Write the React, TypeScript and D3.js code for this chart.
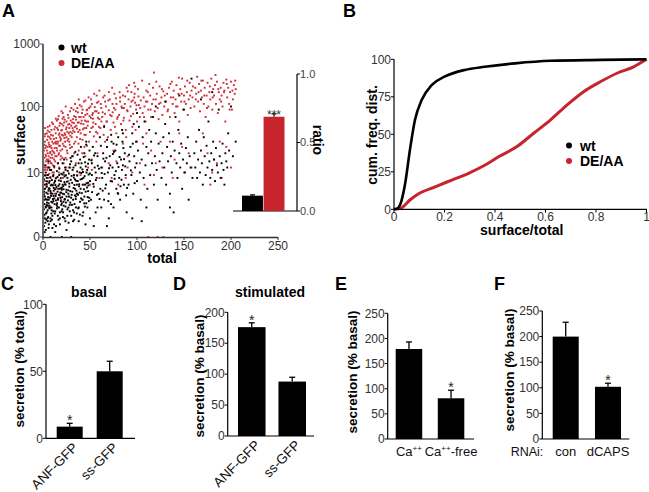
import React from "react";
import * as d3 from "d3";

const FONT = "'Liberation Sans', Arial, Helvetica, sans-serif";
const RED = "#c8242d";
const RED_DOT = "#cc2e36";
const TICK_COLOR = "#333";

// ---------- Panel A: scatter (total, surface) ----------
const deaaPoints: [number, number][] = [
  [1,4],[2,9],[3,15],[1,22],[4,6],[5,12],[2,30],[6,18],[3,3],[7,25],[8,8],[4,40],[6,5],[9,14],[5,20],[2,11],[7,35],[10,10],[8,17],[3,7],[11,28],[9,45],[1,13],[6,2],[10,22],[4,16],[12,12],[11,6],[5,50],[8,4],[0,18],[0,8],[0,30],[12,20],[7,12],[3,26],
  [13,15],[14,30],[15,22],[16,45],[17,10],[18,35],[19,18],[20,55],[21,28],[22,14],[23,40],[24,25],[25,60],[26,20],[27,33],[28,48],[29,12],[14,8],[16,65],[18,26],[20,38],[22,70],[24,17],[26,42],[28,30],[30,52],[15,5],[19,3],[23,9],[27,7],[13,50],[17,20],[21,80],[25,35],[29,24],
  [31,40],[32,65],[33,28],[34,50],[35,85],[36,35],[37,58],[38,22],[39,45],[40,70],[41,100],[42,32],[43,55],[44,38],[45,75],[46,48],[47,90],[48,60],[49,30],[50,42],[51,68],[52,110],[53,50],[54,36],[35,14],[40,9],[45,18],[50,6],[38,130],[44,25],[32,18],[48,12],[53,80],[36,4],[42,3],
  [56,55],[57,85],[58,40],[59,120],[60,65],[61,48],[62,95],[63,70],[64,140],[65,52],[66,78],[67,100],[68,60],[69,35],[70,88],[71,130],[72,45],[73,72],[74,110],[75,58],[76,160],[77,90],[78,40],[79,66],[58,20],[63,12],[68,25],[73,8],[78,15],[60,180],[66,30],[75,22],
  [81,75],[82,120],[83,55],[84,95],[85,150],[86,68],[87,110],[88,45],[89,200],[90,85],[91,130],[92,62],[93,100],[94,170],[95,50],[96,78],[97,140],[98,115],[99,90],[100,60],[101,190],[102,105],[103,70],[104,125],[85,28],[90,18],[95,10],[100,30],[88,8],[103,14],[97,240],
  [106,80],[107,140],[108,100],[109,60],[110,180],[111,120],[112,90],[113,230],[114,150],[115,70],[116,110],[117,200],[118,350],[119,85],[120,130],[121,160],[122,95],[123,65],[124,210],[125,115],[126,140],[127,75],[128,175],[129,100],[110,40],[115,22],[120,14],[125,30],[108,6],[118,9],[112,0],[122,0],[128,0],[127,12],
  [131,120],[132,160],[133,90],[134,200],[135,70],[136,140],[137,250],[138,110],[139,180],[140,80],[141,130],[142,220],[143,100],[144,160],[145,60],[146,190],[147,120],[148,280],[149,90],[150,150],[151,210],[152,110],[153,170],[154,75],[155,130],[156,240],[157,95],[158,180],[159,140],[135,30],[140,16],[145,40],[150,10],[155,20],[138,8],[148,25],[158,12],
  [161,100],[162,200],[163,160],[164,300],[165,120],[166,230],[167,85],[168,180],[169,140],[170,260],[171,110],[172,200],[173,70],[174,150],[175,240],[176,100],[177,170],[178,130],[179,280],[180,90],[181,190],[182,150],[183,220],[184,110],[185,250],[186,80],[187,170],[188,130],[189,200],[190,150],[191,100],[192,240],[193,180],[194,60],[195,270],[196,140],[197,200],[198,110],[199,170],[200,250],[201,90],[202,130],[203,220],[204,160],[205,190],[170,40],[175,20],[180,10],[185,14],[178,6],[190,8],[195,25],[182,16],[200,12],[188,30],
  [0.5,10],[1.5,17],[2.5,24],[3.5,12],[4.5,32],[5.5,8],[6.5,27],[7.5,15],[8.5,38],[9.5,19],[10.5,13],[11.5,33],[12.5,24],[13.5,40],[14.5,18],[0.8,5],[1.8,36],[2.8,19],[3.8,9],[4.8,25],[5.8,14],[6.8,42],[7.8,21],[8.8,11],[9.8,30],[10.8,55],[11.8,16],[12.8,7],[13.8,28],[14.8,62],[0.3,14],[0.2,24],[2.2,48],[5.2,36],[8.2,26],
  [15.5,28],[16.5,19],[17.5,52],[18.5,31],[19.5,44],[20.5,23],[21.5,37],[22.5,58],[23.5,30],[24.5,46],[25.5,22],[26.5,75],[27.5,40],[28.5,27],[29.5,62],[30.5,35],[31.5,48],[32.5,90],[33.5,42],[34.5,30],[16.8,38],[18.8,16],[20.8,66],[22.8,34],[24.8,12],[26.8,54],[28.8,85],[30.8,25],[32.8,57],[34.8,70],[17.2,12],[21.2,8],[25.2,16],[29.2,42],[33.2,20],
  [35.5,52],[36.5,95],[37.5,42],[38.5,70],[39.5,33],[40.5,56],[41.5,80],[42.5,46],[43.5,120],[44.5,62],[45.5,38],[46.5,88],[47.5,52],[48.5,140],[49.5,72],[50.5,100],[51.5,48],[52.5,75],[53.5,58],[54.5,160],[55.5,85],[56.5,42],[57.5,115],[58.5,68],[59.5,50],[37.8,28],[41.8,20],[46.8,26],[51.8,16],[56.8,30],
  [61.5,110],[63.5,82],[65.5,150],[67.5,60],[69.5,125],[71.5,75],[73.5,200],[75.5,95],[77.5,135],[79.5,70],[81.5,170],[83.5,100],[85.5,62],[87.5,145],[89.5,88],[91.5,220],[93.5,72],[95.5,125],[97.5,160],[99.5,105],[101.5,145],[103.5,95],[105.5,260],[107.5,70],[109.5,120],[64.5,38],[76.5,50],[88.5,35],[98.5,45],[106.5,28],
  [111.5,170],[114.5,90],[117.5,130],[120.5,250],[123.5,110],[126.5,190],[129.5,150],[132.5,85],[135.5,230],[138.5,140],[141.5,100],[144.5,290],[147.5,160],[150.5,120],[153.5,260],[156.5,150],[159.5,210],[162.5,130],[165.5,170],[168.5,260],[171.5,150],[174.5,95],[177.5,210],[180.5,140],[183.5,320],[186.5,190],[189.5,120],[192.5,170],[195.5,230],[198.5,90],[201.5,180],[204.5,260],
  [0.6,7],[1.3,27],[1.9,12],[2.4,39],[3.1,18],[3.6,5.5],[4.1,22],[4.6,11],[5.1,44],[5.6,16],[6.1,29],[6.6,9.5],[7.1,52],[7.6,20],[8.1,33],[8.6,14],[9.1,24],[9.6,58],[10.1,17],[10.6,37],[11.1,21],[11.6,10],[12.1,46],[12.6,29],[13.1,18],[13.6,66],[14.1,34],[14.6,24],[15.1,48],[15.6,14],[16.1,30],[16.6,72],[17.1,26],[17.6,40],[18.1,57],[18.6,22],[19.1,33],[19.6,85],[20.1,45],[20.6,17],[21.6,52],[22.1,26],[23.1,64],[23.6,38],[24.1,100],[25.1,49],[26.1,31],[27.1,68],[28.1,55],[29.1,37],[30.1,95],[31.1,58],[32.1,44],[33.1,72],[34.1,110],[35.1,64],[36.1,47],[37.1,82],[38.1,58],[39.1,105],[40.1,40],[41.1,62],[42.1,90],[43.1,70],[44.1,48],[45.1,125],[46.1,60],[47.1,78],[49.1,95],[51.1,130],[53.1,66],[55.1,98],[57.1,150],[59.1,80],[62.1,60],[66.1,120],[70.1,170],[74.1,82],[78.1,110],[82.1,140],[86.1,95],[90.1,175],[94.1,120],[98.1,210],
  [12,4],[20,5],[28,3.5],[36,9],[44,6],[52,11],[60,8],[70,14],[80,6],[90,12]
];

const wtPoints: [number, number][] = [
  [1,0.5],[2,1],[3,2],[1,3],[4,1.5],[5,4],[2,6],[6,2.5],[3,0.3],[7,5],[8,1],[4,8],[6,3],[9,2],[5,0.8],[2,3.5],[7,7],[10,1.2],[8,4.5],[3,10],[11,2.8],[9,6],[1,1.8],[12,3.2],[10,0.4],[4,5.5],[13,1.6],[11,9],[5,2.2],[14,4],[0,2],[0,5],[0,0.5],[12,6.5],[6,12],[13,0.2],[15,2.5],[8,0],
  [16,3],[17,5],[18,1.5],[19,7],[20,2.5],[21,4],[22,10],[23,1],[24,6],[25,3.5],[26,8],[27,2],[28,12],[29,4.5],[30,1.2],[31,6.5],[32,3],[33,9],[34,5],[35,2],[16,14],[18,0.6],[20,4.8],[22,2.2],[24,11],[26,1.8],[28,5.5],[30,15],[32,0.8],[34,7.5],[17,3.8],[19,2.8],[21,6],[23,8.5],[25,0.3],[27,4],[29,2.6],[31,18],[33,1.5],[35,3.5],[20,0],[30,0],
  [36,4],[37,7],[38,2],[39,10],[40,5],[41,14],[42,3],[43,8],[44,20],[45,6],[46,2.5],[47,11],[48,4.5],[49,16],[50,7],[51,3],[52,9],[53,25],[54,5.5],[55,12],[56,1.5],[57,8],[58,18],[59,4],[38,0.8],[42,1.2],[46,30],[50,1],[54,0.5],[58,2],[40,12],[48,6.5],[52,14],[56,10],[44,3.5],[36,6],
  [61,5],[62,12],[63,8],[64,20],[65,3],[66,15],[67,6],[68,25],[69,10],[70,4],[71,18],[72,7],[73,30],[74,12],[75,2],[76,9],[77,22],[78,5],[79,14],[80,35],[81,8],[82,3],[83,16],[84,11],[85,40],[86,6],[87,20],[88,9],[89,1.5],[65,50],[70,1],[75,28],[80,4],[85,13],[62,2],[68,0.5],
  [91,6],[92,15],[93,25],[94,9],[95,40],[96,4],[97,18],[98,12],[99,30],[100,7],[101,22],[102,50],[103,10],[104,3],[105,16],[106,35],[107,8],[108,60],[109,13],[110,25],[111,5],[112,20],[113,45],[114,9],[115,30],[116,14],[117,70],[118,6],[119,18],[120,40],[121,11],[122,3],[123,28],[124,15],[95,1],[105,0.8],[100,80],[110,2],[120,100],
  [126,8],[127,20],[128,35],[129,12],[130,55],[131,6],[132,25],[133,15],[134,40],[135,4],[136,18],[137,10],[138,30],[139,1.5],[140,22],[141,70],[142,14],[143,8],[144,45],[145,20],[146,12],[147,28],[148,5],[149,16],[150,90],[151,10],[152,24],[153,14],[154,35],[155,3],[156,18],[157,12],[158,280],[159,8],[130,120],[145,150],[135,2],
  [161,20],[162,12],[163,30],[164,8],[165,16],[166,45],[167,10],[168,22],[169,14],[170,6],[171,35],[172,18],[173,9],[174,26],[175,12],[176,60],[177,15],[178,8],[179,20],[180,11],[181,30],[182,16],[183,7],[184,24],[185,13],[186,10],[187,90],[188,18],[189,8],[190,14],[191,28],[192,11],[193,6],[194,20],[195,15],[196,12],[197,40],[198,22],[200,100],[202,18],[205,30],[168,130],[180,170],
  [0.5,1.2],[1.5,2.4],[2.5,0.7],[3.5,4.2],[4.5,3],[5.5,1.1],[6.5,6.5],[7.5,2],[8.5,3.6],[9.5,0.9],[1.2,7.5],[2.2,5],[3.2,1.4],[4.2,2.6],[5.2,9],[6.2,0.6],[7.2,3.3],[8.2,5.8],[9.2,1.7],[0.8,3.8],[1.8,0.2],[2.8,2.1],[3.8,6.2],[4.8,1],[5.8,4.6],[6.8,1.9],[7.8,8.2],[8.8,2.7],[9.8,4],[0.3,6.8],[2.6,13],[5.6,15],[8.6,11],
  [10.5,3.1],[11.5,5.2],[12.5,1.4],[13.5,7.8],[14.5,2.3],[15.5,4.4],[16.5,0.9],[17.5,6.1],[18.5,3.3],[19.5,9.5],[20.5,1.8],[21.5,5.6],[22.5,3.9],[23.5,12],[24.5,2.6],[10.8,8.6],[11.8,0.6],[12.8,4.9],[13.8,2.9],[14.8,10.5],[15.8,1.2],[16.8,7.2],[17.8,3.7],[18.8,5.1],[19.8,1.6],[20.8,14],[21.8,2.7],[22.8,6.7],[23.8,0.8],[24.8,4.3],[11.2,3.6],[13.2,5.9],[15.2,2.1],[17.2,9],[19.2,4.2],[21.2,1.1],[23.2,3.1],
  [25.5,6.8],[26.5,2.9],[27.5,9.6],[28.5,1.6],[29.5,7.4],[30.5,3.8],[31.5,11],[32.5,5.2],[33.5,2.4],[34.5,13],[35.5,4.6],[36.5,8.8],[37.5,1.9],[38.5,6.1],[39.5,16],[40.5,3.2],[41.5,7.7],[42.5,10.2],[43.5,4.9],[44.5,2.1],[45.5,12.5],[46.5,6.4],[47.5,3.4],[48.5,9.2],[49.5,22],[26.8,4.7],[28.8,13.5],[30.8,2.3],[32.8,8.1],[34.8,3.1],[36.8,19],[38.8,4.2],[40.8,9.8],[42.8,1.5],[44.8,14.5],[46.8,5.3],[48.8,2.8],[27.2,0.7],[33.2,0.9],[39.2,1.3],[45.2,0.6],
  [51.5,15.5],[53.5,6.2],[55.5,20],[57.5,3.8],[59.5,11.5],[61.5,26],[63.5,4.6],[65.5,9.4],[67.5,17],[69.5,2.8],[71.5,13],[73.5,6.9],[75.5,21],[77.5,10.5],[79.5,4.1],[81.5,17.5],[83.5,7.4],[85.5,24],[87.5,12.5],[89.5,5.2],[91.5,19],[93.5,10.8],[95.5,28],[97.5,6.4],[99.5,14],[60.5,35],[72.5,38],[84.5,30],[96.5,55],
  [0.4,2.9],[1.1,4.4],[1.7,1.3],[2.3,8.8],[2.9,3.1],[3.4,0.9],[3.9,2.3],[4.4,6.9],[4.9,1.7],[5.4,3.4],[5.9,0.4],[6.4,5.1],[6.9,2.2],[7.4,11],[7.9,0.8],[8.4,4.1],[8.9,1.4],[9.4,7.3],[9.9,2.6],[10.3,5.8],[10.9,1.6],[11.4,4.6],[11.9,12.5],[12.3,2.4],[12.9,7],[13.4,3.6],[13.9,0.5],[14.3,5.4],[14.9,1.9],[15.4,8.3],[15.9,3.2],[16.4,5.7],[16.9,2],[17.4,11.5],[17.9,1],[18.4,4.2],[18.9,7.9],[19.4,2.3],[19.9,5.3],[20.4,3.4],[20.9,9.2],[21.4,1.5],[21.9,4.9],[22.4,16],[22.9,3],[23.4,6.1],[23.9,2.1],[24.4,8.9],[24.9,4.8],[25.9,1.2],[26.3,10.6],[27.4,3.5],[27.9,6.3],[28.4,2.3],[29.3,17],[29.9,3.3],[30.4,8.7],[31.2,4.4],[31.9,1.7],[32.4,12],[33.4,5.9],[33.9,3.7],[34.4,21],[35.2,7.1],[35.9,1.4],[36.4,10.4],[37.3,3.8],[37.9,14],[38.3,5.6],[39.4,2.7],[39.9,7.5],[40.3,25],[41.2,4.1],[41.9,11.2],[42.3,6],[43.3,17.5],[43.9,2.5],[44.3,8.6],[45.4,4.4],[45.9,27],[46.3,10],[47.2,2],[47.9,13.8],[48.3,5.8],[49.2,3.3],[49.9,9.6],[52.2,4.3],[54.3,18.5],[56.2,7.3],[58.3,12.8],[60.2,3.1],[62.4,9.8],[64.2,16.5],[66.3,5.1],[68.2,32],[70.3,11.7],[72.4,2.4],[74.3,19.5],[76.2,7.7],[78.3,27],[80.3,12.2],[82.4,5.6],[84.2,45],[86.3,16.2],[88.4,3.7]
];

const scatterXTicks = [0, 50, 100, 150, 200, 250];
const scatterYTicks = [0, 10, 100, 1000];
const legendLabels = ["wt", "DE/AA"];

// inset ratio bars
const ratioGroups = ["wt", "DE/AA"];
const ratioValues = [0.112, 0.688];
const ratioErrors = [0.006, 0.022];
const ratioTicks = [0, 0.5, 1.0];

// ---------- Panel B: cumulative distributions ----------
const wtCdfX = [0, 0.01, 0.024, 0.044, 0.063, 0.083, 0.11, 0.15, 0.2, 0.28, 0.36, 0.48, 0.62, 0.82, 1.0];
const wtCdfY = [0, 0.3, 2.9, 17, 39.5, 59.5, 73, 83, 88.4, 92.9, 95, 97.3, 99, 99.6, 100];
const deaaCdfX = [0, 0.03, 0.063, 0.096, 0.163, 0.229, 0.295, 0.361, 0.414, 0.487, 0.553, 0.619, 0.685, 0.751, 0.817, 0.883, 0.949, 1.0];
const deaaCdfY = [0, 1, 6.2, 10.2, 15, 19.5, 24, 29.5, 35, 41.8, 50.7, 59.5, 69.5, 78.4, 85, 90.7, 95, 100];
const cdfXTicks = [0, 0.2, 0.4, 0.6, 0.8, 1];
const cdfYTicks = [0, 25, 50, 75, 100];

// ---------- Panels C-F: bars ----------
const basalGroups = ["ANF-GFP", "ss-GFP"];
const basalValues = [8.7, 50];
const basalErrors = [2.5, 7.5];
const basalSig = [true, false];

const stimGroups = ["ANF-GFP", "ss-GFP"];
const stimValues = [176, 88];
const stimErrors = [7, 7];
const stimSig = [true, false];

const caGroups = ["Ca++", "Ca++-free"];
const caValues = [179, 81];
const caErrors = [14, 16];
const caSig = [false, true];

const rnaiGroups = ["con", "dCAPS"];
const rnaiValues = [200, 102];
const rnaiErrors = [28, 7];
const rnaiSig = [false, true];

function renderCaLabel(s: string) {
  const parts = s.split("++");
  const out: any[] = [];
  parts.forEach((p, i) => {
    if (i > 0) {
      out.push(<tspan key={"s" + i} fontSize={8} dy={-5}>++</tspan>);
      out.push(<tspan key={"p" + i} dy={5}>{p}</tspan>);
    } else {
      out.push(<tspan key={"p" + i}>{p}</tspan>);
    }
  });
  return out;
}

type BarProps = {
  groups: string[]; values: number[]; errors: number[]; sig: boolean[];
  axisX: number; axisEnd: number; y0: number; yTop: number; max: number; ticks: number[];
  band: [number, number]; pad: number; rotated: boolean; title?: string; titleX?: number;
  ylabel: string; ylabelX: number; ylabelY: number; caLabels?: boolean;
};

function BarPanel(p: BarProps) {
  const y = d3.scaleLinear().domain([0, p.max]).range([p.y0, p.yTop]);
  const x = d3.scaleBand<string>().domain(p.groups).range(p.band).paddingInner(p.pad).paddingOuter(0);
  const bw = x.bandwidth();
  return (
    <g fontFamily={FONT}>
      {p.title && (
        <text x={p.titleX} y={297} textAnchor="middle" fontWeight="bold" fontSize={14}>{p.title}</text>
      )}
      <text transform={`translate(${p.ylabelX},${p.ylabelY}) rotate(-90)`} textAnchor="middle" fontWeight="bold" fontSize={13.5}>{p.ylabel}</text>
      {p.groups.map((g, i) => {
        const cx = (x(g) as number) + bw / 2;
        const top = y(p.values[i]);
        const et = y(p.values[i] + p.errors[i]);
        return (
          <g key={g}>
            <line x1={cx} x2={cx} y1={top} y2={et} stroke="#000" strokeWidth={1.3} />
            <line x1={cx - 3} x2={cx + 3} y1={et} y2={et} stroke="#000" strokeWidth={1.3} />
            <rect x={x(g)} y={top} width={bw} height={p.y0 - top} fill="#000" />
            {p.sig[i] && (
              <text x={cx} y={et + 2} textAnchor="middle" fontSize={14} fill="#222">*</text>
            )}
            {p.rotated ? (
              <text transform={`translate(${cx + 9},${p.y0 + 10}) rotate(-45)`} textAnchor="end" fontSize={13.5} fill="#111">{g}</text>
            ) : (
              <text x={cx} y={p.y0 + 17} textAnchor="middle" fontSize={13} fill="#111">
                {p.caLabels ? renderCaLabel(g) : g}
              </text>
            )}
          </g>
        );
      })}
      <line x1={p.axisX} x2={p.axisEnd} y1={p.y0} y2={p.y0} stroke="#000" strokeWidth={1.2} />
      <line x1={p.axisX} x2={p.axisX} y1={p.y0} y2={p.yTop} stroke="#000" strokeWidth={1.2} />
      {p.ticks.map((t) => (
        <g key={t}>
          <line x1={p.axisX - 3} x2={p.axisX} y1={y(t)} y2={y(t)} stroke="#000" strokeWidth={1} />
          <text x={p.axisX - 3} y={y(t)} dy="0.35em" textAnchor="end" fontSize={12} fill={TICK_COLOR}>{t}</text>
        </g>
      ))}
    </g>
  );
}

function PanelA() {
  const x = d3.scaleLinear().domain([0, 250]).range([43, 278]);
  const yLin = d3.scaleLinear()
    .domain([0, Math.log10(11), Math.log10(101), Math.log10(1001)])
    .range([237, 172.5, 106.5, 44]);
  const y = (v: number) => yLin(Math.log10(1 + v));
  const r = d3.scaleLinear().domain([0, 1]).range([211, 74]);
  const xb = d3.scaleBand<string>().domain(ratioGroups).range([242, 284.5]).paddingInner(0.03);
  const bw = xb.bandwidth();
  const s = 1.9;
  return (
    <g fontFamily={FONT}>
      {deaaPoints.map((d, i) => (
        <rect key={"r" + i} x={x(d[0]) - s / 2} y={y(d[1]) - s / 2} width={s} height={s} fill={RED_DOT} />
      ))}
      {wtPoints.map((d, i) => (
        <rect key={"b" + i} x={x(d[0]) - s / 2} y={y(d[1]) - s / 2} width={s} height={s} fill="#000" />
      ))}
      {/* axes */}
      <line x1={43} x2={43} y1={44} y2={237} stroke="#666" strokeWidth={2} />
      <line x1={42} x2={278} y1={237.5} y2={237.5} stroke="#333" strokeWidth={1.5} />
      {scatterYTicks.map((t) => (
        <g key={t}>
          <line x1={40} x2={43} y1={y(t)} y2={y(t)} stroke="#555" strokeWidth={1} />
          <text x={40} y={y(t)} dy="0.35em" textAnchor="end" fontSize={12} fill={TICK_COLOR}>{t}</text>
        </g>
      ))}
      {scatterXTicks.map((t) => (
        <g key={t}>
          <line x1={x(t)} x2={x(t)} y1={237} y2={240} stroke="#333" strokeWidth={1} />
          <text x={x(t)} y={250} textAnchor="middle" fontSize={12} fill={TICK_COLOR}>{t}</text>
        </g>
      ))}
      <text x={162} y={263} textAnchor="middle" fontWeight="bold" fontSize={14}>total</text>
      <text transform="translate(25,140) rotate(-90)" textAnchor="middle" fontWeight="bold" fontSize={14}>surface</text>
      {/* legend */}
      {legendLabels.map((l, i) => (
        <g key={l}>
          <circle cx={61.5} cy={47.5 + i * 15.5} r={3} fill={i === 0 ? "#000" : RED_DOT} />
          <text x={71} y={52.5 + i * 15.5} fontWeight="bold" fontSize={14}>{l}</text>
        </g>
      ))}
      {/* inset ratio */}
      <line x1={233} x2={297} y1={211} y2={211} stroke="#000" strokeWidth={1.2} />
      <line x1={297} x2={297} y1={211} y2={74} stroke="#000" strokeWidth={1.2} />
      {ratioTicks.map((t) => (
        <g key={t}>
          <line x1={297} x2={300} y1={r(t)} y2={r(t)} stroke="#000" strokeWidth={1} />
          <text x={300} y={r(t)} dy="0.35em" fontSize={11} fill="#444">{t.toFixed(1)}</text>
        </g>
      ))}
      {ratioGroups.map((g, i) => {
        const cx = (xb(g) as number) + bw / 2;
        const top = r(ratioValues[i]);
        const et = r(ratioValues[i] + ratioErrors[i]);
        return (
          <g key={g}>
            <line x1={cx} x2={cx} y1={top} y2={et} stroke="#000" strokeWidth={1.2} />
            <line x1={cx - 2.5} x2={cx + 2.5} y1={et} y2={et} stroke="#000" strokeWidth={1.2} />
            <rect x={xb(g)} y={top} width={bw} height={211 - top} fill={i === 0 ? "#000" : RED} />
            {i === 1 && (
              <text x={cx} y={et + 5} textAnchor="middle" fontSize={12} fill="#333">***</text>
            )}
          </g>
        );
      })}
      <text transform="translate(313,140) rotate(90)" textAnchor="middle" fontWeight="bold" fontSize={14}>ratio</text>
    </g>
  );
}

function PanelB() {
  const x = d3.scaleLinear().domain([0, 1]).range([394, 646.5]);
  const y = d3.scaleLinear().domain([0, 100]).range([209.3, 59.3]);
  const mk = (xs: number[], ys: number[]) =>
    d3.line<[number, number]>().x((d) => x(d[0])).y((d) => y(d[1])).curve(d3.curveMonotoneX)(
      xs.map((v, i) => [v, ys[i]] as [number, number])
    ) || "";
  return (
    <g fontFamily={FONT}>
      <path d={mk(deaaCdfX, deaaCdfY)} fill="none" stroke={RED} strokeWidth={3} />
      <path d={mk(wtCdfX, wtCdfY)} fill="none" stroke="#000" strokeWidth={2.6} />
      <line x1={394} x2={647} y1={209.3} y2={209.3} stroke="#000" strokeWidth={1.2} />
      <line x1={394} x2={394} y1={209.3} y2={59.3} stroke="#000" strokeWidth={1.2} />
      {cdfYTicks.map((t) => (
        <g key={t}>
          <line x1={391} x2={394} y1={y(t)} y2={y(t)} stroke="#000" strokeWidth={1} />
          <text x={391} y={y(t)} dy="0.35em" textAnchor="end" fontSize={12} fill={TICK_COLOR}>{t}</text>
        </g>
      ))}
      {cdfXTicks.map((t) => (
        <g key={t}>
          <line x1={x(t)} x2={x(t)} y1={209.3} y2={212.5} stroke="#000" strokeWidth={1} />
          <text x={x(t)} y={220.5} textAnchor="middle" fontSize={12} fill={TICK_COLOR}>{String(t)}</text>
        </g>
      ))}
      <text x={521.7} y={235} textAnchor="middle" fontWeight="bold" fontSize={14}>surface/total</text>
      <text transform="translate(377,135) rotate(-90)" textAnchor="middle" fontWeight="bold" fontSize={14}>cum. freq. dist.</text>
      {legendLabels.map((l, i) => (
        <g key={l}>
          <circle cx={569} cy={145.5 + i * 15.5} r={3} fill={i === 0 ? "#000" : RED} />
          <text x={580} y={150.5 + i * 15.5} fontWeight="bold" fontSize={14}>{l}</text>
        </g>
      ))}
    </g>
  );
}

export default function App() {
  return (
    <svg width={649} height={492} style={{ position: "absolute", left: 0, top: 0, background: "#fff" }}>
      <rect width={649} height={492} fill="#fff" />
      <g fontFamily={FONT} fontWeight="bold" fontSize={18}>
        <text x={2} y={17}>A</text>
        <text x={343} y={17}>B</text>
        <text x={1} y={290}>C</text>
        <text x={173} y={290}>D</text>
        <text x={335} y={290}>E</text>
        <text x={494} y={290}>F</text>
      </g>
      <PanelA />
      <PanelB />
      <BarPanel groups={basalGroups} values={basalValues} errors={basalErrors} sig={basalSig}
        axisX={46} axisEnd={135} y0={438.3} yTop={304.3} max={100} ticks={[0, 50, 100]}
        band={[56.7, 122.7]} pad={0.35} rotated title="basal" titleX={89}
        ylabel="secretion (% total)" ylabelX={24} ylabelY={369} />
      <BarPanel groups={stimGroups} values={stimValues} errors={stimErrors} sig={stimSig}
        axisX={227.7} axisEnd={314} y0={436} yTop={312.3} max={200} ticks={[0, 50, 100, 150, 200]}
        band={[238, 306]} pad={0.32} rotated title="stimulated" titleX={270}
        ylabel="secretion (% basal)" ylabelX={204} ylabelY={376} />
      <BarPanel groups={caGroups} values={caValues} errors={caErrors} sig={caSig}
        axisX={387.7} axisEnd={474} y0={439} yTop={313.3} max={250} ticks={[0, 50, 100, 150, 200, 250]}
        band={[395.7, 464.3]} pad={0.37} rotated={false} caLabels
        ylabel="secretion (% basal)" ylabelX={357} ylabelY={372} />
      <BarPanel groups={rnaiGroups} values={rnaiValues} errors={rnaiErrors} sig={rnaiSig}
        axisX={542.3} axisEnd={629.3} y0={439} yTop={311} max={250} ticks={[0, 50, 100, 150, 200, 250]}
        band={[552.7, 621]} pad={0.385} rotated={false}
        ylabel="secretion (% basal)" ylabelX={514} ylabelY={370} />
      <text x={527} y={456} textAnchor="middle" fontFamily={FONT} fontSize={12.5} fill="#111">RNAi:</text>
    </svg>
  );
}
